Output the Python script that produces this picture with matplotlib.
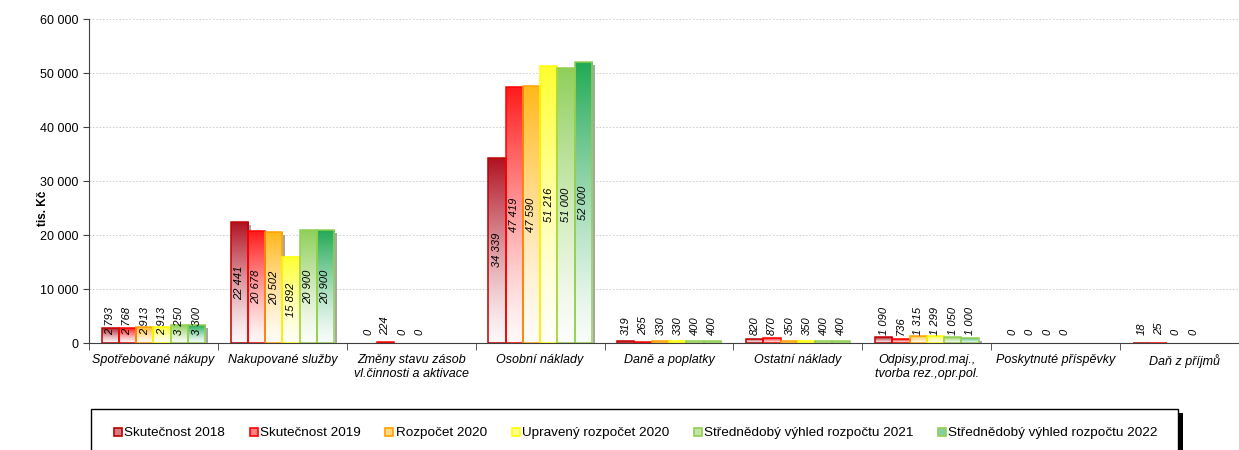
import numpy as np
import matplotlib
matplotlib.use("Agg")
import matplotlib.pyplot as plt
from matplotlib.colors import to_rgb
from matplotlib.lines import Line2D
from matplotlib.patches import Rectangle
from matplotlib.ticker import FuncFormatter, MultipleLocator
from matplotlib.transforms import offset_copy

plt.rcParams["font.family"] = ["Liberation Sans", "DejaVu Sans"]

categories = [
    "Spotřebované nákupy",
    "Nakupované služby",
    "Změny stavu zásob\nvl.činnosti a aktivace",
    "Osobní náklady",
    "Daně a poplatky",
    "Ostatní náklady",
    "Odpisy,prod.maj.,\ntvorba rez.,opr.pol.",
    "Poskytnuté příspěvky",
    "Daň z příjmů",
]

series_names = [
    "Skutečnost 2018",
    "Skutečnost 2019",
    "Rozpočet 2020",
    "Upravený rozpočet 2020",
    "Střednědobý výhled rozpočtu 2021",
    "Střednědobý výhled rozpočtu 2022",
]

skutecnost_2018 = [2793, 22441, 0, 34339, 319, 820, 1090, 0, 18]
skutecnost_2019 = [2768, 20678, 224, 47419, 265, 870, 736, 0, 25]
rozpocet_2020 = [2913, 20502, 0, 47590, 330, 350, 1315, 0, 0]
upraveny_2020 = [2913, 15892, 0, 51216, 330, 350, 1299, 0, 0]
vyhled_2021 = [3250, 20900, None, 51000, 400, 400, 1050, None, None]
vyhled_2022 = [3300, 20900, None, 52000, 400, 400, 1000, None, None]

values = [skutecnost_2018, skutecnost_2019, rozpocet_2020,
          upraveny_2020, vyhled_2021, vyhled_2022]

top_colors = ["#B01020", "#FF1A1A", "#FFB81C", "#FFFF30", "#8FCF5A", "#22AA55"]
edge_colors = ["#C00000", "#FF0000", "#FFA000", "#FFFF00", "#92D050", "#92D050"]


def fmt(v):
    return f"{v:,.0f}".replace(",", " ")


fig = plt.figure(figsize=(12.39, 4.5), dpi=100)
ax = fig.add_axes([89 / 1239, 107 / 450, 1160 / 1239, 324 / 450])

bar_w = 0.134
x = np.arange(len(categories))
shadow_tr = offset_copy(ax.transData, fig=fig, x=3, y=-3, units="dots")
grad = np.linspace(0, 1, 256).reshape(-1, 1)

for i, (vals, top, edge) in enumerate(zip(values, top_colors, edge_colors)):
    c = np.array(to_rgb(top))
    t = 0.03 + 0.97 * grad ** 1.3
    img = 1 - t[..., None] * (1 - c)[None, None, :]
    for j, v in enumerate(vals):
        if v is None:
            continue
        xc = x[j] + (i - 2.5) * bar_w
        label_kw = dict(rotation=90, fontsize=8, style="italic",
                        ha="center", textcoords="offset points")
        if v >= 12000:
            ax.annotate(fmt(v), (xc, v / 2), xytext=(0, 0), va="center",
                        zorder=6, **label_kw)
        else:
            ax.annotate(fmt(v), (xc, 0), xytext=(0, 6), va="bottom",
                        zorder=6, **label_kw)
        if v == 0:
            continue
        ax.add_patch(Rectangle((xc - bar_w / 2, 0), bar_w, v,
                               facecolor="#A6A6A6", edgecolor="none",
                               transform=shadow_tr, zorder=1))
        bar = Rectangle((xc - bar_w / 2, 0), bar_w, v, facecolor="none",
                        edgecolor=edge, linewidth=1.1, zorder=3 + 0.01 * i)
        ax.add_patch(bar)
        im = ax.imshow(img, extent=[xc - bar_w / 2, xc + bar_w / 2, 0, v],
                       origin="lower", aspect="auto", interpolation="bilinear",
                       zorder=2 + 0.01 * i)
        im.set_clip_path(bar)

ax.set_xlim(-0.5, len(categories) - 0.5)
ax.set_ylim(0, 60000)
ax.yaxis.set_major_locator(MultipleLocator(10000))
ax.yaxis.set_major_formatter(FuncFormatter(lambda v, p: fmt(v)))
ax.grid(axis="y", color="#C8C8C8", linestyle=(0, (2, 2)), linewidth=0.6)
ax.set_axisbelow(True)

ax.set_xticks(x)
ax.set_xticklabels(categories, style="italic", fontsize=9)
ax.set_xticks(np.arange(len(categories) + 1) - 0.5, minor=True)
ax.tick_params(axis="x", which="major", length=0, pad=8)
ax.tick_params(axis="x", which="minor", length=5, direction="out", color="#404040")
ax.tick_params(axis="y", labelsize=9, length=4, color="#404040")

for side in ["top", "right"]:
    ax.spines[side].set_visible(False)
for side in ["left", "bottom"]:
    ax.spines[side].set_color("#404040")
    ax.spines[side].set_zorder(5)

ax.set_ylabel("tis. Kč", fontsize=8.5, fontweight="bold")
ax.yaxis.set_label_coords(-40 / 1160, 0.415)

# legend box with black shadow
fig.add_artist(Rectangle((96 / 1239, -0.2), 1087 / 1239, 0.2 + 37 / 450,
                         transform=fig.transFigure, facecolor="black",
                         edgecolor="none", zorder=0))
fig.add_artist(Rectangle((91 / 1239, -0.2), 1087 / 1239, 0.2 + 41 / 450,
                         transform=fig.transFigure, facecolor="white",
                         edgecolor="black", linewidth=1.0, zorder=1))

handles = []
for top, edge in zip(top_colors, edge_colors):
    c = np.array(to_rgb(top))
    face = 1 - 0.55 * (1 - c)
    handles.append(Line2D([], [], linestyle="none", marker="s", markersize=6,
                          markerfacecolor=face, markeredgecolor=edge,
                          markeredgewidth=1.2))

leg = fig.legend(handles, series_names, loc="center left",
                 bbox_to_anchor=(107 / 1239, 17 / 450), ncol=6, frameon=False,
                 fontsize=9.7, handlelength=0.6, handletextpad=0.15,
                 columnspacing=1.85, borderpad=0)
leg.set_zorder(2)

fig.savefig("out.png", dpi=100)
plt.close()
